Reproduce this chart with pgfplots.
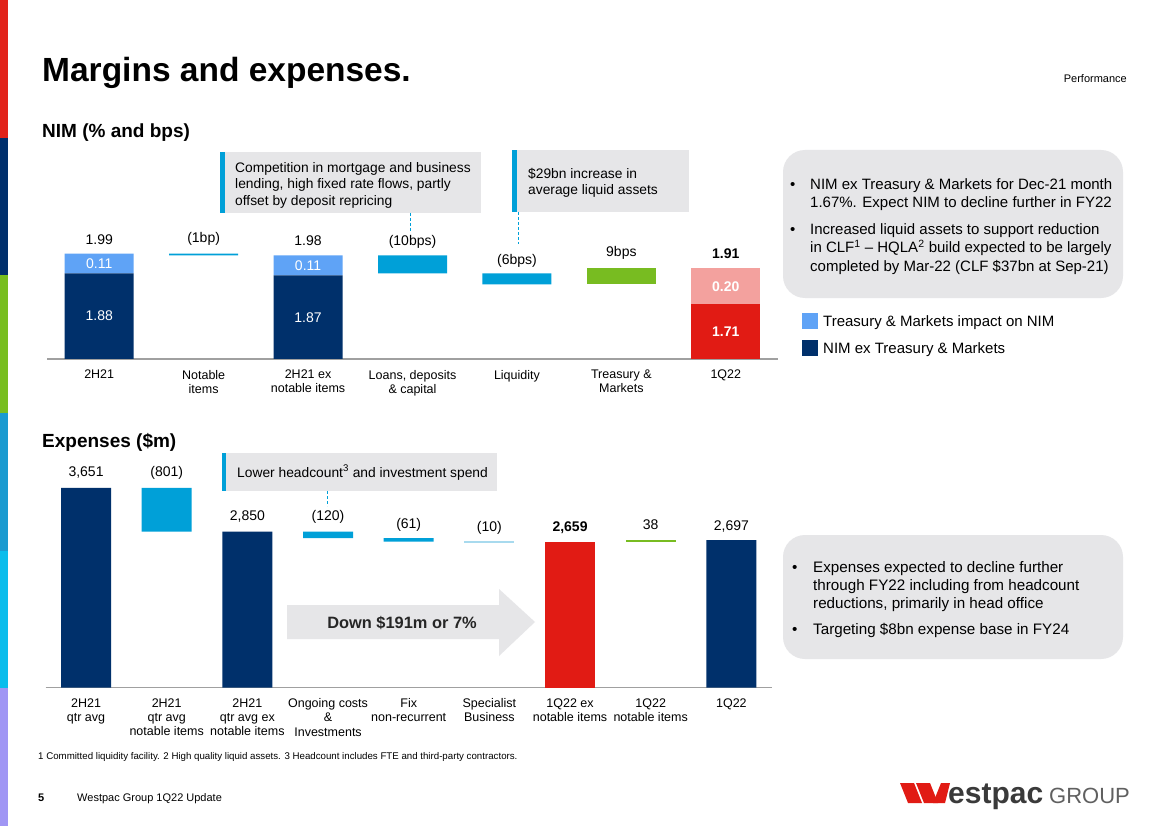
\documentclass[border=0pt]{standalone}
\usepackage{fontspec}
\setmainfont{Liberation Sans}
\usepackage{pgfplots}
\pgfplotsset{compat=1.18}
\definecolor{wnavy}{HTML}{00306B}
\definecolor{wlblue}{HTML}{5FA3F6}
\definecolor{wcyan}{HTML}{00A0D8}
\definecolor{wlcyan}{HTML}{A8DAEE}
\definecolor{wgreen}{HTML}{78BC21}
\definecolor{wred}{HTML}{E11B14}
\definecolor{wpink}{HTML}{F3A19E}
\definecolor{boxgray}{HTML}{E6E6E8}
\definecolor{axgray}{HTML}{A0A0A0}
\definecolor{sA}{HTML}{E2231A}
\definecolor{sB}{HTML}{002F6C}
\definecolor{sC}{HTML}{78BE20}
\definecolor{sD}{HTML}{1A9AD0}
\definecolor{sE}{HTML}{0ABDEC}
\definecolor{sF}{HTML}{A096F4}
\definecolor{logogray}{HTML}{3A3A3A}
\definecolor{grpgray}{HTML}{606060}
\newcommand\fs[2]{\fontsize{#1}{#2}\selectfont}
\begin{document}
\begin{tikzpicture}
\useasboundingbox (0pt,0pt) rectangle (1169pt,-826pt);
\fill[white] (0pt,0pt) rectangle (1169pt,-826pt);
\begin{scope}[x=1pt,y=-1pt]
% left strip
\fill[sA] (0,0) rectangle (8,137.7);
\fill[sB] (0,137.7) rectangle (8,275.3);
\fill[sC] (0,275.3) rectangle (8,413);
\fill[sD] (0,413) rectangle (8,550.7);
\fill[sE] (0,550.7) rectangle (8,688.3);
\fill[sF] (0,688.3) rectangle (8,826);
% titles
\node[anchor=base west, inner sep=0, font=\fs{33.5}{36}\bfseries] at (42,82) {Margins and expenses.};
\node[anchor=base east, inner sep=0, font=\fs{11}{12}] at (1127,82.8) {Performance};
\node[anchor=base west, inner sep=0, font=\fs{19}{22}\bfseries] at (42,137.5) {NIM (\% and bps)};
\node[anchor=base west, inner sep=0, font=\fs{19}{22}\bfseries] at (42,447) {Expenses (\$m)};
% box 1
\fill[boxgray] (220,152) rectangle (481,213);
\fill[wcyan] (220,152) rectangle (225,213);
\node[anchor=base west, inner sep=0, font=\fs{13.8}{16}] at (235,172.2) {Competition in mortgage and business};
\node[anchor=base west, inner sep=0, font=\fs{13.8}{16}] at (235,188.9) {lending, high fixed rate flows, partly};
\node[anchor=base west, inner sep=0, font=\fs{13.8}{16}] at (235,205.6) {offset by deposit repricing};
\draw[wcyan, line width=0.9pt, dash pattern=on 3pt off 2pt] (410,213) -- (410,232);
% box 2
\fill[boxgray] (512,150) rectangle (689,212);
\fill[wcyan] (512,150) rectangle (517,212);
\node[anchor=base west, inner sep=0, font=\fs{13.8}{16}] at (528,178.2) {\$29bn increase in};
\node[anchor=base west, inner sep=0, font=\fs{13.8}{16}] at (528,194.9) {average liquid assets};
\draw[wcyan, line width=0.9pt, dash pattern=on 3pt off 2pt] (518,212) -- (518,244);
% right box 1
\fill[boxgray, rounded corners=22pt] (783,150) rectangle (1123,298);
\foreach \yy/\tt in {189.2/{NIM ex Treasury \& Markets for Dec-21 month}, 207.2/{1.67\%. Expect NIM to decline further in FY22}, 234.2/{Increased liquid assets to support reduction}, 252.9/{in CLF\textsuperscript{1} \textendash{} HQLA\textsuperscript{2} build expected to be largely}, 271.2/{completed by Mar-22 (CLF \$37bn at Sep-21)}}
  \node[anchor=base west, inner sep=0, font=\fs{15}{18}] at (810,\yy) {\tt};
\node[anchor=base west, inner sep=0, font=\fs{15}{18}] at (790,189.2) {•};
\node[anchor=base west, inner sep=0, font=\fs{15}{18}] at (790,234.2) {•};
% legend
\fill[wlblue] (802,313) rectangle (818,329);
\node[anchor=base west, inner sep=0, font=\fs{15}{18}] at (823,326.4) {Treasury \& Markets impact on NIM};
\fill[wnavy] (802,340) rectangle (818,356);
\node[anchor=base west, inner sep=0, font=\fs{15}{18}] at (823,353.4) {NIM ex Treasury \& Markets};
% bottom annotation box
\fill[boxgray] (222,453) rectangle (497,491);
\fill[wcyan] (222,453) rectangle (226,491);
\node[anchor=base west, inner sep=0, font=\fs{13.8}{16}] at (237,477) {Lower headcount\textsuperscript{3} and investment spend};
\draw[wcyan, line width=0.9pt, dash pattern=on 3pt off 2pt] (327,491) -- (327,506);
% arrow
\fill[boxgray] (287,605) -- (499,605) -- (499,589) -- (535,622) -- (499,656) -- (499,639) -- (287,639) -- cycle;
\node[anchor=base, inner sep=0, font=\fs{16.4}{18}\bfseries, text=black!85] at (402,628) {Down \$191m or 7\%};
% right box 2
\fill[boxgray, rounded corners=22pt] (783,535) rectangle (1123,659);
\foreach \yy/\tt in {572.2/{Expenses expected to decline further}, 590.2/{through FY22 including from headcount}, 608.2/{reductions, primarily in head office}, 634.8/{Targeting \$8bn expense base in FY24}}
  \node[anchor=base west, inner sep=0, font=\fs{15.2}{18}] at (813,\yy) {\tt};
\node[anchor=base west, inner sep=0, font=\fs{15.2}{18}] at (792,572.2) {•};
\node[anchor=base west, inner sep=0, font=\fs{15.2}{18}] at (792,634.8) {•};
% footnote and footer
\node[anchor=base west, inner sep=0, font=\fs{9.7}{11}] at (38,759.3) {1 Committed liquidity facility. 2 High quality liquid assets. 3 Headcount includes FTE and third-party contractors.};
\node[anchor=base west, inner sep=0, font=\fs{11}{13}\bfseries] at (38,801) {5};
\node[anchor=base west, inner sep=0, font=\fs{11}{13}] at (77,801) {Westpac Group 1Q22 Update};
% logo
\fill[wred] (900,783) -- (914,783) -- (922,803) -- (908,803) -- cycle;
\fill[wred] (916,783) -- (930,783) -- (938,803) -- (924,803) -- cycle;
\fill[wred] (933,803) -- (941,783) -- (950,783) -- (945,803) -- cycle;
\node[anchor=base west, inner sep=0, font=\fs{30}{32}\bfseries, text=logogray] at (948,803) {estpac};
\node[anchor=base west, inner sep=0, font=\fs{22}{24}, text=grpgray] at (1049,803) {GROUP};
\end{scope}

% ---------- NIM waterfall ----------
\begin{axis}[
 at={(47pt,-359pt)}, anchor=south west,
 scale only axis, width=731pt, height=108pt,
 xmin=-0.5, xmax=6.5, ymin=1.405, ymax=2.005, enlargelimits=false,
 ybar stacked, bar width=69pt,
 axis y line=none, ytick=\empty,
 axis x line*=bottom,
 x axis line style={draw=axgray, line width=1.3pt, -},
 xtick={0,...,6}, major tick length=0pt,
 xticklabels={2H21, {Notable\\items}, {2H21 ex\\notable items}, {Loans, deposits\\\& capital}, Liquidity, {Treasury \&\\Markets}, 1Q22},
 xticklabel style={font=\fs{12.5}{14}, align=center, anchor=north, inner sep=0pt, yshift=-11pt},
 clip mode=individual,
]
\addplot[draw=none, fill=none] coordinates {(0,0) (1,1.98) (2,0) (3,1.88) (4,1.82) (5,1.82) (6,0)};
\addplot[draw=none, fill=wnavy] coordinates {(0,1.88) (1,0) (2,1.87) (3,0) (4,0) (5,0) (6,0)};
\addplot[draw=none, fill=wlblue] coordinates {(0,0.11) (1,0) (2,0.11) (3,0) (4,0) (5,0) (6,0)};
\addplot[draw=none, fill=wcyan] coordinates {(0,0) (1,0.01) (2,0) (3,0.10) (4,0.06) (5,0) (6,0)};
\addplot[draw=none, fill=wgreen] coordinates {(0,0) (1,0) (2,0) (3,0) (4,0) (5,0.09) (6,0)};
\addplot[draw=none, fill=wred] coordinates {(0,0) (1,0) (2,0) (3,0) (4,0) (5,0) (6,1.71)};
\addplot[draw=none, fill=wpink] coordinates {(0,0) (1,0) (2,0) (3,0) (4,0) (5,0) (6,0.20)};
\node[font=\fs{14}{16}] at (axis cs:0,2.07) {1.99};
\node[font=\fs{14}{16}] at (axis cs:1,2.07) {(1bp)};
\node[font=\fs{14}{16}] at (axis cs:2,2.063) {1.98};
\node[font=\fs{14}{16}] at (axis cs:3,2.057) {(10bps)};
\node[font=\fs{14}{16}] at (axis cs:4,1.951) {(6bps)};
\node[font=\fs{14}{16}] at (axis cs:5,1.992) {9bps};
\node[font=\fs{14}{16}\bfseries] at (axis cs:6,1.992) {1.91};
\end{axis}

% overlay: white labels inside NIM bars
\begin{axis}[
 at={(47pt,-359pt)}, anchor=south west,
 scale only axis, width=731pt, height=108pt,
 xmin=-0.5, xmax=6.5, ymin=1.405, ymax=2.005, enlargelimits=false,
 hide axis, clip=false,
]
\addplot[draw=none, mark=none, forget plot] coordinates {(0,1.5) (6,1.5)};
\node[font=\fs{14}{16}, text=white] at (axis cs:0,1.935) {0.11};
\node[font=\fs{14}{16}, text=white] at (axis cs:0,1.643) {1.88};
\node[font=\fs{14}{16}, text=white] at (axis cs:2,1.925) {0.11};
\node[font=\fs{14}{16}, text=white] at (axis cs:2,1.636) {1.87};
\node[font=\fs{14}{16}\bfseries, text=white] at (axis cs:6,1.808) {0.20};
\node[font=\fs{14}{16}\bfseries, text=white] at (axis cs:6,1.556) {1.71};
\end{axis}

% ---------- Expenses waterfall ----------
\begin{axis}[
 at={(45.7pt,-687.7pt)}, anchor=south west,
 scale only axis, width=726pt, height=202.6pt,
 xmin=-0.5, xmax=8.5, ymin=0, ymax=3700, enlargelimits=false,
 ybar stacked, bar width=50pt,
 axis y line=none, ytick=\empty,
 axis x line*=bottom,
 x axis line style={draw=axgray, line width=1.3pt, -},
 xtick={0,...,8}, major tick length=0pt,
 xticklabels={{2H21\\qtr avg}, {2H21\\qtr avg\\notable items}, {2H21\\qtr avg ex\\notable items}, {Ongoing costs\\\&\\Investments}, {Fix\\non-recurrent}, {Specialist\\Business}, {1Q22 ex\\notable items}, {1Q22\\notable items}, 1Q22},
 xticklabel style={font=\fs{12.5}{14.3}, align=center, anchor=north, inner sep=0pt, yshift=-10.5pt},
 clip mode=individual,
]
\addplot[draw=none, fill=none] coordinates {(0,0) (1,2850) (2,0) (3,2730) (4,2669) (5,2659) (6,0) (7,2659) (8,0)};
\addplot[draw=none, fill=wnavy] coordinates {(0,3651) (1,0) (2,2850) (3,0) (4,0) (5,0) (6,0) (7,0) (8,2697)};
\addplot[draw=none, fill=wcyan] coordinates {(0,0) (1,801) (2,0) (3,120) (4,61) (5,0) (6,0) (7,0) (8,0)};
\addplot[draw=none, fill=wred] coordinates {(0,0) (1,0) (2,0) (3,0) (4,0) (5,0) (6,2659) (7,0) (8,0)};
\addplot[draw=none, fill=wgreen] coordinates {(0,0) (1,0) (2,0) (3,0) (4,0) (5,0) (6,0) (7,38) (8,0)};
\node[font=\fs{14}{16}] at (axis cs:0,3921) {3,651};
\node[font=\fs{14}{16}] at (axis cs:1,3921) {(801)};
\node[font=\fs{14}{16}] at (axis cs:2,3118) {2,850};
\node[font=\fs{14}{16}] at (axis cs:3,3118) {(120)};
\node[font=\fs{14}{16}] at (axis cs:4,2972) {(61)};
\node[font=\fs{14}{16}] at (axis cs:5,2917) {(10)};
\node[font=\fs{14}{16}\bfseries] at (axis cs:6,2917) {2,659};
\node[font=\fs{14}{16}] at (axis cs:7,2972) {38};
\node[font=\fs{14}{16}] at (axis cs:8,2953) {2,697};
\end{axis}

% overlay for the thin Specialist Business step
\begin{axis}[
 at={(45.7pt,-687.7pt)}, anchor=south west,
 scale only axis, width=726pt, height=202.6pt,
 xmin=-0.5, xmax=8.5, ymin=0, ymax=3700, enlargelimits=false,
 ybar stacked, bar width=48.7pt, hide axis,
]
\addplot[draw=none, fill=none] coordinates {(5,2659)};
\addplot[fill=wlcyan, draw=wlcyan, line width=1.3pt] coordinates {(5,10)};
\end{axis}
\end{tikzpicture}
\end{document}
